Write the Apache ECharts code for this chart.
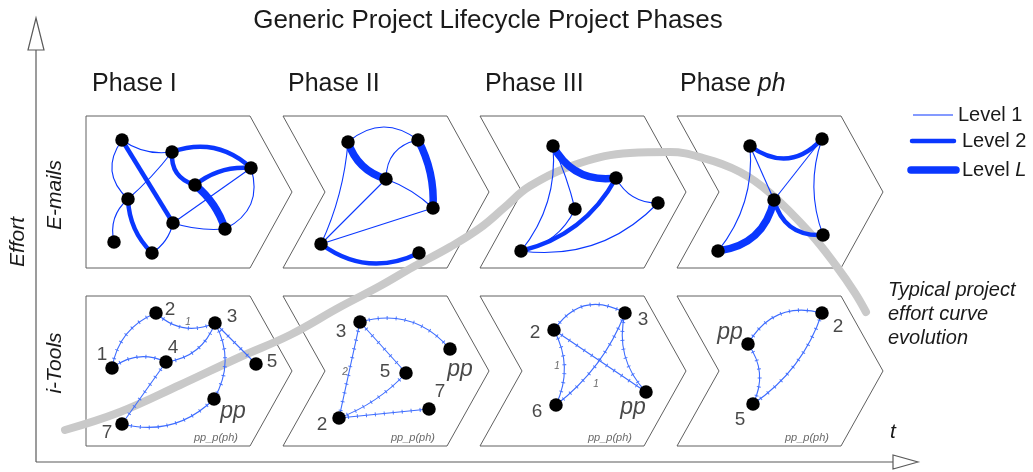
<!DOCTYPE html>
<html><head><meta charset="utf-8">
<script src="https://cdn.jsdelivr.net/npm/echarts@6/dist/echarts.min.js"></script>
<style>html,body{margin:0;padding:0;background:#fff}#c{width:1033px;height:472px}</style>
</head><body><div id="c"></div>
<script>
// ---------- data ----------
const titleText = 'Generic Project Lifecycle Project Phases';
const phaseNames = ['Phase I', 'Phase II', 'Phase III', 'Phase {i|ph}'];
const panelX = [86, 283, 480, 677];
const rowNames = ['E-mails', 'i-Tools'];
const levelNames = ['Level 1', 'Level 2', 'Level {i|L}'];
const curveNote = ['Typical project', 'effort curve', 'evolution'];

const emailNodes = [
  [[122,140],[172,152],[251,168],[195,185],[128,199],[173,223],[225,229],[114,242],[152,253]],
  [[348,142],[418,140],[386,179],[433,208],[321,244],[419,253]],
  [[553,146],[616,178],[575,209],[658,203],[521,251]],
  [[750,146],[822,139],[774,200],[823,235],[718,251]]
];
// [from, to, level, bend]
const emailEdges = [
  [[0,5,2,0],[0,1,1,-0.2],[0,4,1,-0.44],[1,2,2,0.3],[1,3,2,-0.4],[3,2,2,0.2],[3,6,3,0.15],[1,4,1,0.05],[4,7,1,-0.3],[4,8,2,-0.2],[5,8,1,0.2],[5,2,1,0],[5,6,1,-0.1],[2,6,1,0.42]],
  [[0,1,1,0.4],[0,2,3,-0.26],[1,3,3,0.14],[2,1,1,0.4],[2,3,1,0.1],[0,4,1,0.09],[2,4,1,0],[3,4,1,0],[4,5,2,-0.3]],
  [[0,1,3,-0.34],[1,4,2,0.22],[0,4,1,0.2],[0,2,1,0.05],[2,4,1,0.25],[1,3,1,-0.3],[4,3,1,-0.25]],
  [[0,1,2,-0.44],[0,2,1,0],[1,2,1,0],[0,4,1,0.2],[1,3,1,-0.18],[2,4,3,0.35],[2,3,2,-0.4]]
];

const toolNodes = [
  [[112,368],[156,313],[215,323],[166,362],[256,364],[214,399],[122,424]],
  [[360,322],[450,349],[406,373],[429,409],[339,418]],
  [[554,330],[625,313],[646,392],[556,405]],
  [[822,313],[748,344],[753,404]]
];
const toolNodeNames = [
  ['1','2','3','4','5','pp','7'],
  ['3','pp','5','7','2'],
  ['2','3','pp','6'],
  ['2','pp','5']
];
const toolLabelPos = [
  [[102,355],[170,310],[232,317],[173,348],[272,362],[233,412],[107,433]],
  [[341,332],[460,370],[385,372],[440,392],[322,425]],
  [[535,333],[643,320],[633,408],[537,412]],
  [[838,327],[730,333],[740,420]]
];
// [from, to, bend]
const toolEdges = [
  [[0,1,0.28],[1,2,-0.33],[0,3,0.3],[3,2,-0.3],[2,4,0],[2,5,0.28],[3,6,0],[6,5,-0.28]],
  [[0,1,0.32],[0,2,0],[0,4,0],[2,4,0.12],[4,3,0]],
  [[0,1,0.45],[0,2,0],[0,3,0.25],[3,1,-0.14],[1,2,-0.27]],
  [[1,0,0.38],[1,2,0.3],[2,0,-0.17]]
];
const edgeNotes = [[188,322,'1'],[345,372,'2'],[557,366,'1'],[596,384,'1']];
const ppNote = 'pp_p(ph)';

const effortCurve = [[65,430],[120,412],[180,385],[240,357],[290,335],[340,307],[380,286],[413,267],[450,247],[480,228],[505,207],[530,186],[580,163],[630,153],[670,152],[703,158],[740,172],[770,193],[810,233],[837,267],[855,293],[866,312]];

const axisLines = [[36,462,36,18],[36,462,918,462]];

// ---------- styles ----------
const FONT = 'Liberation Sans, Arial, Helvetica, sans-serif';
const levelWidth = {1: 1.1, 2: 4.5, 3: 7.5};
const BLUE = '#0a37ff';
const TOOL_BLUE = '#3d6cff';
const ROW_TOP = [116, 296], ROW_BOT = [268, 446];

// ---------- build ----------
const chevronData = [];
for (let r = 0; r < 2; r++) for (let i = 0; i < panelX.length; i++) chevronData.push([i, r]);

const emailLineData = [];
emailEdges.forEach((edges, p) => edges.forEach(e => {
  emailLineData.push({coords: [emailNodes[p][e[0]], emailNodes[p][e[1]]],
    lineStyle: {width: levelWidth[e[2]], curveness: e[3]}});
}));
const toolLineData = [];
toolEdges.forEach((edges, p) => edges.forEach(e => {
  toolLineData.push({coords: [toolNodes[p][e[0]], toolNodes[p][e[1]]], lineStyle: {curveness: e[2]}});
}));
const emailNodeData = [].concat(...emailNodes);
const toolNodeData = [].concat(...toolNodes);
const toolLabelData = [];
toolLabelPos.forEach((arr, p) => arr.forEach((pt, k) => toolLabelData.push([pt[0], pt[1], toolNodeNames[p][k]])));
const ppNoteData = panelX.map(x => [x + 130, 438, ppNote]);

const chart = echarts.init(document.getElementById('c'), null, {renderer: 'canvas'});

const INK = '#1a1a1a';
const graphic = [];
graphic.push({type: 'text', x: 488, y: 21, style: {text: titleText, fontSize: 26, fontFamily: FONT, fill: INK, align: 'center', verticalAlign: 'middle'}});
const phaseLeft = [92, 288, 485, 680];
phaseNames.forEach((t, i) => graphic.push({type: 'text', x: phaseLeft[i], y: 84,
  style: {text: t, fontSize: 25, fontFamily: FONT, fill: INK, align: 'left', verticalAlign: 'middle',
    rich: {i: {fontStyle: 'italic', fontSize: 25, fontFamily: FONT, fill: INK}}}}));
graphic.push({type: 'text', x: 18, y: 242, rotation: Math.PI / 2,
  style: {text: 'Effort', fontSize: 21, fontStyle: 'italic', fontFamily: FONT, fill: INK, align: 'center', verticalAlign: 'middle'}});
const rowY = [195, 363];
rowNames.forEach((t, i) => graphic.push({type: 'text', x: 55, y: rowY[i], rotation: Math.PI / 2,
  style: {text: t, fontSize: 21, fontStyle: 'italic', fontFamily: FONT, fill: INK, align: 'center', verticalAlign: 'middle'}}));
const legY = [115, 141, 170];
const legX1 = [913, 912, 911], legX2 = [953, 954, 956], legTX = [958, 962, 962];
levelNames.forEach((t, i) => {
  graphic.push({type: 'line', shape: {x1: legX1[i], y1: legY[i], x2: legX2[i], y2: legY[i]},
    style: {stroke: BLUE, lineWidth: levelWidth[i + 1], lineCap: i ? 'round' : 'butt'}});
  graphic.push({type: 'text', x: legTX[i], y: legY[i], style: {text: t, fontSize: 20, fontFamily: FONT, fill: INK, align: 'left', verticalAlign: 'middle',
    rich: {i: {fontStyle: 'italic', fontSize: 20, fontFamily: FONT, fill: INK}}}});
});
curveNote.forEach((t, i) => graphic.push({type: 'text', x: 888, y: 290 + i * 24,
  style: {text: t, fontSize: 20, fontStyle: 'italic', fontFamily: FONT, fill: INK, align: 'left', verticalAlign: 'middle'}}));
graphic.push({type: 'text', x: 893, y: 432, style: {text: 't', fontSize: 21, fontStyle: 'italic', fontFamily: FONT, fill: INK, align: 'center', verticalAlign: 'middle'}});

const option = {
  animation: false,
  backgroundColor: '#fff',
  grid: {left: 0, right: 0, top: 0, bottom: 0},
  xAxis: {type: 'value', min: 0, max: 1033, show: false},
  yAxis: {type: 'value', min: 0, max: 472, inverse: true, show: false},
  graphic: graphic,
  series: [
    { // chevrons
      type: 'custom', z: 1, data: chevronData, silent: true,
      renderItem: function (params, api) {
        const i = api.value(0), r = api.value(1);
        const x0 = panelX[i], t = ROW_TOP[r], b = ROW_BOT[r], m = (t + b) / 2;
        const pts = [[x0, t], [x0 + 164, t], [x0 + 206, m], [x0 + 164, b], [x0, b]];
        if (i > 0) pts.push([x0 + 42, m]);
        return {type: 'polygon', shape: {points: pts.map(p => api.coord(p))},
          style: {fill: '#fff', stroke: '#606060', lineWidth: 1}};
      }
    },
    { // axes with outlined arrow heads
      type: 'custom', z: 1, data: axisLines, silent: true,
      renderItem: function (params, api) {
        const a = api.coord([api.value(0), api.value(1)]);
        const tip = api.coord([api.value(2), api.value(3)]);
        const dx = tip[0] - a[0], dy = tip[1] - a[1];
        const L = Math.sqrt(dx * dx + dy * dy), ux = dx / L, uy = dy / L;
        const len = ux ? 25 : 32, hw = ux ? 7 : 8;
        const base = [tip[0] - ux * len, tip[1] - uy * len];
        return {type: 'group', children: [
          {type: 'line', shape: {x1: a[0], y1: a[1], x2: base[0], y2: base[1]}, style: {stroke: '#5a5a5a', lineWidth: 1.2}},
          {type: 'polygon', shape: {points: [tip, [base[0] - uy * hw, base[1] + ux * hw], [base[0] + uy * hw, base[1] - ux * hw]]},
            style: {fill: '#fff', stroke: '#5a5a5a', lineWidth: 1.2}}
        ]};
      }
    },
    { // effort curve
      type: 'line', z: 2, data: effortCurve, smooth: 0.4, symbol: 'none', silent: true,
      lineStyle: {color: '#c9c9c9', width: 8, cap: 'round', join: 'round'}
    },
    { // email edges
      type: 'lines', coordinateSystem: 'cartesian2d', z: 3, silent: true, data: emailLineData,
      lineStyle: {color: BLUE, opacity: 1}
    },
    { // tool edges
      type: 'lines', coordinateSystem: 'cartesian2d', z: 3, silent: true, data: toolLineData,
      lineStyle: {color: TOOL_BLUE, width: 1.1, opacity: 1}
    },
    { // tool edge tick marks
      type: 'lines', coordinateSystem: 'cartesian2d', z: 3, silent: true, data: toolLineData,
      lineStyle: {color: TOOL_BLUE, width: 4, opacity: 0.9, type: [1, 8]}
    },
    { // nodes
      type: 'scatter', z: 4, silent: true, data: emailNodeData.concat(toolNodeData),
      symbol: 'circle', symbolSize: 13.5, itemStyle: {color: '#000', opacity: 1}
    },
    { // node labels
      type: 'scatter', z: 5, silent: true, data: toolLabelData, symbolSize: 0,
      label: {show: true, position: 'inside', color: INK, fontSize: 19, fontFamily: FONT,
        formatter: p => p.value[2] === 'pp' ? '{i|pp}' : p.value[2],
        rich: {i: {fontStyle: 'italic', fontSize: 23, fontFamily: FONT, color: INK}}}
    },
    { // edge notes
      type: 'scatter', z: 5, silent: true, data: edgeNotes, symbolSize: 0,
      label: {show: true, position: 'inside', color: '#444', fontSize: 10, fontStyle: 'italic', fontFamily: FONT,
        formatter: p => p.value[2]}
    },
    { // pp_p(ph) notes
      type: 'scatter', z: 5, silent: true, data: ppNoteData, symbolSize: 0,
      label: {show: true, position: 'inside', color: '#444', fontSize: 11, fontStyle: 'italic', fontFamily: FONT,
        formatter: p => p.value[2]}
    }
  ]
};
chart.setOption(option);
</script></body></html>
